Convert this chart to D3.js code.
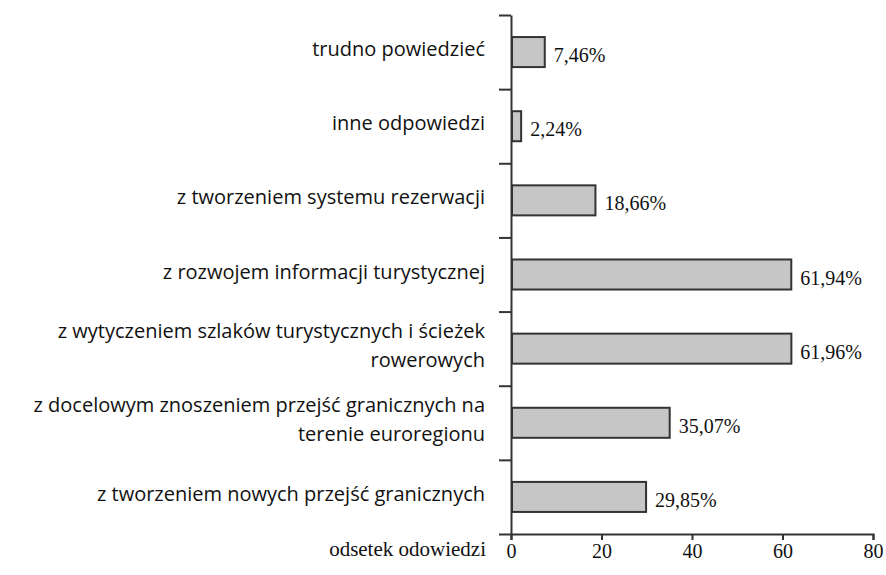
<!DOCTYPE html>
<html>
<head>
<meta charset="utf-8">
<script src="https://cdn.jsdelivr.net/npm/d3@7"></script>
<style>
  body { margin: 0; background: #fff; }
  svg { display: block; }
</style>
</head>
<body>
<svg id="chart"></svg>
<script>
// categories from top to bottom, each split into its text lines
const categories = [
    ['trudno powiedzieć'],
    ['inne odpowiedzi'],
    ['z tworzeniem systemu rezerwacji'],
    ['z rozwojem informacji turystycznej'],
    ['z wytyczeniem szlaków turystycznych i ścieżek', 'rowerowych'],
    ['z docelowym znoszeniem przejść granicznych na', 'terenie euroregionu'],
    ['z tworzeniem nowych przejść granicznych']
];
const values = [7.46, 2.24, 18.66, 61.94, 61.96, 35.07, 29.85];
const valueLabels = ['7,46%', '2,24%', '18,66%', '61,94%', '61,96%', '35,07%', '29,85%'];
const xTicks = [0, 20, 40, 60, 80];
const axisTitle = 'odsetek odowiedzi';

function getConfig() {
    let width = 886;
    let height = 575;
    let margin = { top: 15, left: 511, right: 13, bottom: 41 };
    let bodyWidth = width - margin.left - margin.right;
    let bodyHeight = height - margin.top - margin.bottom;
    let container = d3.select('#chart')
        .attr('width', width)
        .attr('height', height);
    return { width, height, margin, bodyWidth, bodyHeight, container };
}

function getScales(config) {
    let { bodyWidth, bodyHeight } = config;
    let keys = categories.map((c, i) => i);
    let xScale = d3.scaleLinear()
        .domain([0, 80])
        .range([0, bodyWidth]);
    let yScale = d3.scaleBand()
        .domain(keys)
        .range([0, bodyHeight])
        .paddingInner(0.595)
        .paddingOuter(0.2975);
    // boundaries between categories, used for the tick marks
    let yEdges = d3.scaleLinear()
        .domain([0, categories.length])
        .range([0, bodyHeight]);
    return { xScale, yScale, yEdges };
}

function drawBars(scales, config) {
    let { xScale, yScale } = scales;
    let { margin, container } = config;
    let body = container.append('g')
        .attr('transform', `translate(${margin.left},${margin.top})`);

    body.selectAll('.bar').data(values)
        .enter().append('rect')
        .attr('class', 'bar')
        .attr('x', xScale(0) + 1)
        .attr('y', (d, i) => yScale(i))
        .attr('width', d => xScale(d) - xScale(0) - 1)
        .attr('height', yScale.bandwidth())
        .attr('fill', '#c6c6c6')
        .attr('stroke', '#333')
        .attr('stroke-width', 2);

    body.selectAll('.val').data(values)
        .enter().append('text')
        .attr('class', 'val')
        .attr('x', d => xScale(d) + 9)
        .attr('y', (d, i) => yScale(i) + yScale.bandwidth() / 2 + 3)
        .attr('dy', '0.35em')
        .style('font-family', '"Liberation Serif", "Times New Roman", serif')
        .style('font-size', '20px')
        .attr('fill', '#111')
        .text((d, i) => valueLabels[i]);
}

function drawLabels(scales, config) {
    let { yScale } = scales;
    let { margin, container } = config;
    let lineGap = 29;
    let labels = container.append('g')
        .attr('transform', `translate(${margin.left - 26},${margin.top})`);

    categories.forEach((lines, i) => {
        let mid = yScale(i) + yScale.bandwidth() / 2;
        let first = mid - (lines.length - 1) * lineGap / 2;
        let t = labels.append('text')
            .attr('text-anchor', 'end')
            .style('font-family', '"Open Sans", sans-serif')
            .style('font-size', '20px')
            .attr('fill', '#111');
        lines.forEach((line, j) => {
            t.append('tspan')
                .attr('x', 0)
                .attr('y', first + j * lineGap - 3)
                .attr('dy', '0.35em')
                .text(line);
        });
    });
}

function drawAxes(scales, config) {
    let { xScale, yEdges } = scales;
    let { margin, container, height } = config;

    let axisX = d3.axisBottom(xScale)
        .tickValues(xTicks)
        .tickSize(6)
        .tickSizeOuter(6);
    let gx = container.append('g')
        .attr('transform', `translate(${margin.left},${height - margin.bottom})`)
        .call(axisX);
    gx.selectAll('text')
        .attr('y', 10)
        .style('font-family', '"Liberation Serif", "Times New Roman", serif')
        .style('font-size', '20px')
        .attr('fill', '#111');

    let axisY = d3.axisLeft(yEdges)
        .ticks(categories.length)
        .tickSize(12)
        .tickSizeOuter(0)
        .tickFormat('');
    container.append('g')
        .attr('transform', `translate(${margin.left},${margin.top})`)
        .call(axisY);

    container.selectAll('.domain, .tick line')
        .attr('stroke', '#333')
        .attr('stroke-width', 2);

    container.append('text')
        .attr('x', margin.left - 25)
        .attr('y', height - margin.bottom + 22)
        .attr('text-anchor', 'end')
        .style('font-family', '"Liberation Serif", "Times New Roman", serif')
        .style('font-size', '21px')
        .attr('fill', '#111')
        .text(axisTitle);
}

let config = getConfig();
let scales = getScales(config);
drawBars(scales, config);
drawAxes(scales, config);
drawLabels(scales, config);
</script>
</body>
</html>
